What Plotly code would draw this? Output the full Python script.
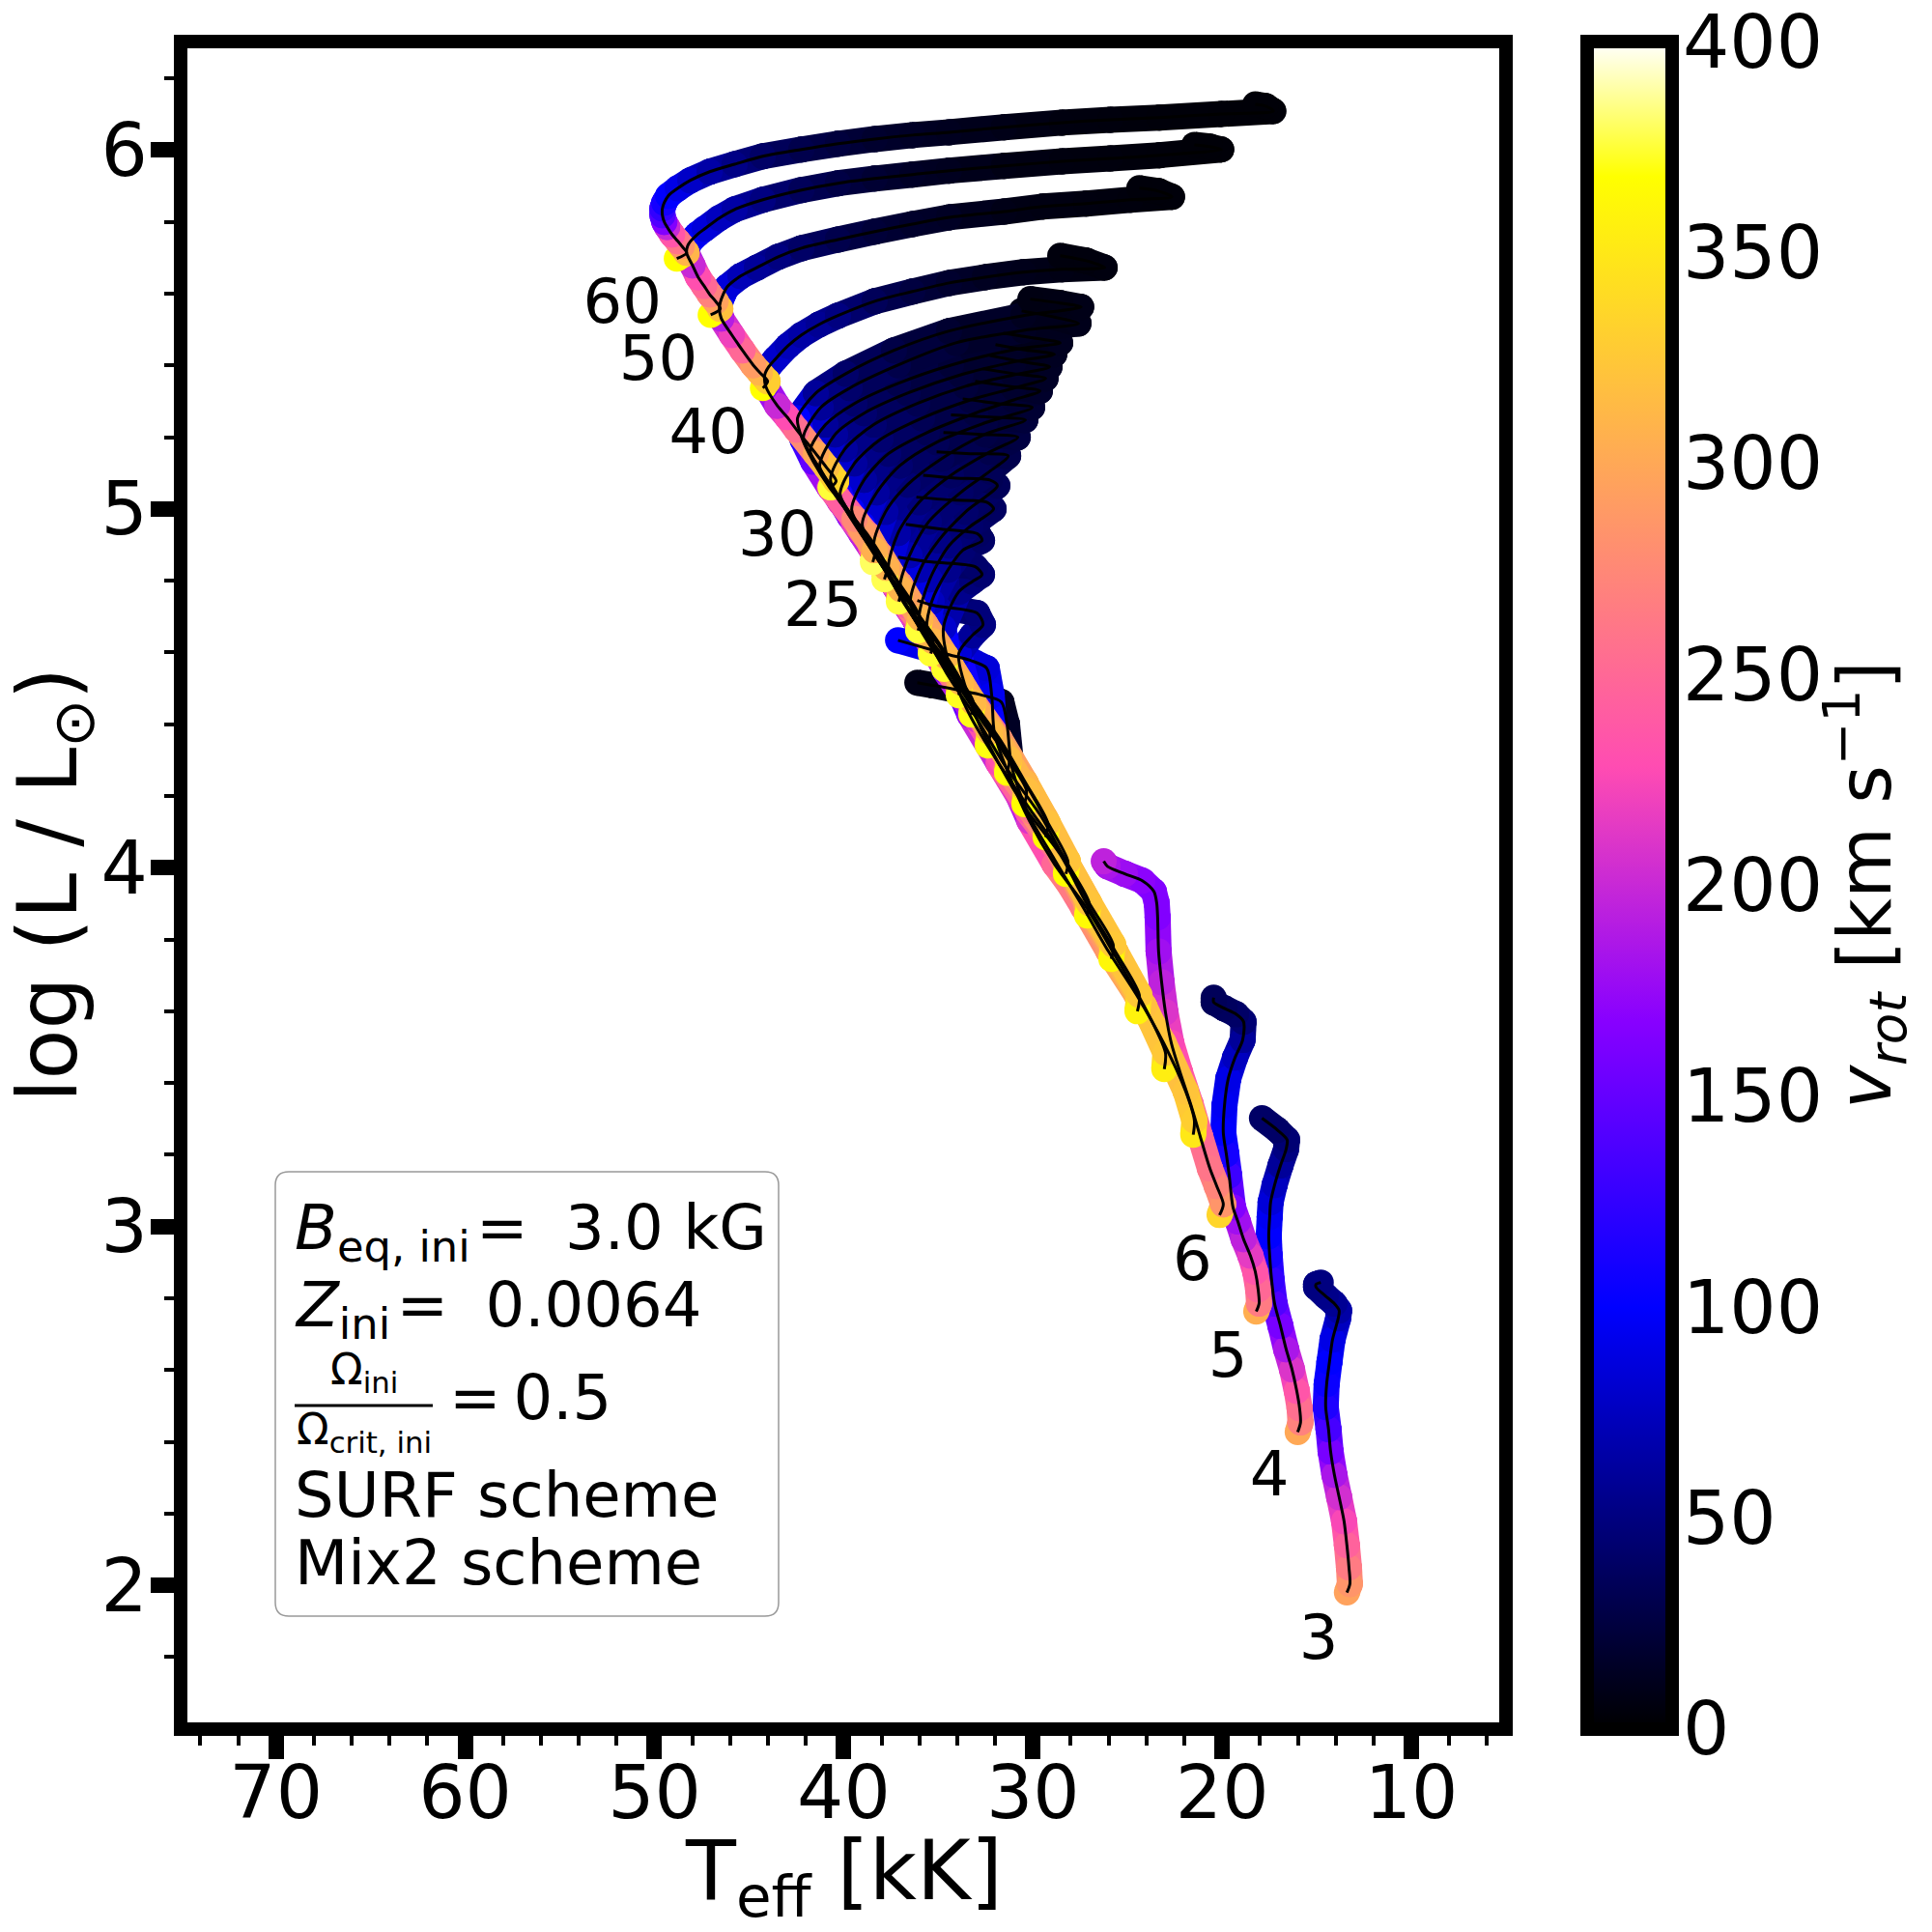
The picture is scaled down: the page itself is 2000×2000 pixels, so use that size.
import plotly.graph_objects as go
from plotly.colors import sample_colorscale

# Stellar tracks: Teff [kK], log L, vrot [km/s], from the ZAMS hook to the end
T3 = [13.41, 13.25, 13.30, 13.41, 13.56, 13.82, 14.07, 14.27, 14.38, 14.53, 14.48, 14.33, 14.17, 13.87, 13.82, 14.07, 14.53, 15.04, 15.04, 14.79]
L3 = [1.980, 2.004, 2.050, 2.112, 2.179, 2.246, 2.308, 2.373, 2.435, 2.497, 2.561, 2.623, 2.685, 2.744, 2.766, 2.785, 2.806, 2.831, 2.839, 2.844]
V3 = [295, 285, 265, 245, 225, 205, 185, 160, 135, 115, 105, 100, 90, 75, 65, 58, 54, 50, 50, 50]
T4 = [16.01, 15.86, 15.91, 16.06, 16.31, 16.62, 16.92, 17.23, 17.39, 17.49, 17.54, 17.49, 17.44, 17.23, 16.92, 16.62, 16.57, 17.08, 17.90]
L4 = [2.427, 2.454, 2.494, 2.542, 2.602, 2.658, 2.723, 2.785, 2.852, 2.919, 2.973, 3.027, 3.068, 3.116, 3.170, 3.216, 3.242, 3.269, 3.302]
V4 = [300, 270, 255, 235, 210, 185, 160, 140, 125, 110, 100, 95, 85, 75, 60, 50, 45, 40, 40]
T5 = [18.20, 18.05, 18.10, 18.25, 18.51, 18.87, 19.17, 19.43, 19.63, 19.78, 19.94, 19.88, 19.68, 19.32, 18.92, 18.87, 19.27, 19.88, 20.45, 20.45]
L5 = [2.763, 2.785, 2.825, 2.874, 2.919, 2.965, 3.014, 3.054, 3.143, 3.202, 3.261, 3.337, 3.412, 3.471, 3.520, 3.571, 3.592, 3.608, 3.625, 3.638]
V5 = [305, 265, 250, 235, 215, 195, 180, 165, 130, 110, 100, 95, 90, 75, 60, 45, 40, 37, 35, 35]
T6 = [20.14, 19.94, 20.29, 20.65, 21.16, 21.67, 22.23, 22.69, 23.00, 23.20, 23.36, 23.41, 23.46, 23.61, 24.22, 25.14, 26.06, 26.26]
L6 = [3.032, 3.062, 3.113, 3.162, 3.251, 3.342, 3.431, 3.512, 3.598, 3.681, 3.767, 3.862, 3.902, 3.934, 3.964, 3.983, 4.004, 4.018]
V6 = [335, 285, 272, 260, 252, 245, 235, 225, 210, 195, 180, 165, 165, 165, 170, 178, 185, 195]
T7 = [21.53, 21.47, 21.93, 23.10, 24.53, 26.01, 27.34, 28.86, 30.19, 30.80, 31.16, 31.37, 31.67, 32.69, 35.24, 36.11]
L7 = [3.256, 3.296, 3.377, 3.512, 3.646, 3.767, 3.889, 4.023, 4.144, 4.225, 4.292, 4.400, 4.462, 4.481, 4.508, 4.516]
V7 = [350, 330, 322, 315, 305, 290, 270, 245, 215, 180, 20, 14, 12, 10, 8, 8]
T8 = [23.06, 23.00, 24.12, 25.65, 27.18, 28.86, 30.19, 31.31, 32.03, 32.18, 32.44, 33.30, 34.43, 37.13]
L8 = [3.439, 3.485, 3.614, 3.754, 3.889, 4.010, 4.131, 4.265, 4.373, 4.481, 4.556, 4.578, 4.594, 4.634]
V8 = [355, 325, 318, 300, 280, 250, 210, 170, 110, 95, 85, 85, 85, 100]
T9 = [24.48, 24.38, 25.65, 27.18, 28.56, 30.29, 31.82, 33.15, 33.92, 33.20, 32.64, 32.95, 35.24, 36.11]
L9 = [3.600, 3.646, 3.767, 3.902, 4.037, 4.158, 4.292, 4.440, 4.597, 4.648, 4.677, 4.710, 4.731, 4.745]
V9 = [358, 325, 318, 300, 270, 235, 190, 130, 85, 60, 50, 48, 42, 40]
T10 = [25.86, 25.76, 27.03, 28.46, 30.09, 31.82, 33.35, 34.33, 34.73, 33.92, 33.20, 32.69, 33.05, 35.35, 37.13]
L10 = [3.746, 3.786, 3.902, 4.037, 4.158, 4.292, 4.427, 4.548, 4.669, 4.769, 4.798, 4.817, 4.839, 4.852, 4.866]
V10 = [362, 325, 318, 295, 265, 225, 175, 125, 80, 55, 48, 44, 42, 38, 36]
T11 = [27.14, 27.03, 28.31, 29.58, 31.41, 32.94, 34.63, 35.60, 35.35, 34.48, 33.71, 32.69, 32.90, 34.84, 36.72]
L11 = [3.867, 3.902, 4.023, 4.144, 4.279, 4.413, 4.548, 4.656, 4.742, 4.831, 4.885, 4.912, 4.930, 4.944, 4.957]
V11 = [365, 322, 315, 290, 255, 210, 160, 110, 75, 55, 45, 40, 38, 35, 33]
T12 = [28.26, 28.15, 29.33, 30.75, 32.58, 34.12, 35.55, 36.01, 35.45, 34.43, 33.30, 32.08, 32.44, 34.33, 36.16]
L12 = [3.983, 4.018, 4.136, 4.265, 4.400, 4.521, 4.642, 4.696, 4.804, 4.898, 4.952, 5.000, 5.019, 5.025, 5.033]
V12 = [368, 322, 312, 285, 245, 195, 140, 105, 70, 50, 42, 38, 36, 33, 31]
T13 = [29.33, 29.22, 30.40, 31.77, 33.60, 35.14, 36.47, 35.96, 34.99, 33.56, 31.88, 32.28, 34.07, 35.80]
L13 = [4.085, 4.125, 4.238, 4.360, 4.494, 4.615, 4.736, 4.831, 4.912, 4.992, 5.065, 5.081, 5.086, 5.094]
V13 = [368, 320, 310, 280, 235, 180, 110, 70, 52, 42, 35, 33, 30, 28]
T14 = [30.45, 30.35, 31.52, 32.95, 34.78, 36.16, 37.03, 36.52, 35.50, 33.82, 32.28, 31.31, 33.30, 35.09]
L14 = [4.177, 4.217, 4.319, 4.440, 4.567, 4.683, 4.777, 4.871, 4.965, 5.046, 5.105, 5.148, 5.154, 5.159]
V14 = [368, 318, 305, 275, 225, 165, 105, 70, 50, 40, 34, 30, 27, 25]
T15 = [31.37, 31.26, 32.54, 34.27, 35.90, 37.02, 37.64, 37.13, 36.01, 34.33, 32.28, 30.80, 32.79, 34.73]
L15 = [4.265, 4.303, 4.413, 4.535, 4.664, 4.755, 4.831, 4.933, 5.019, 5.094, 5.159, 5.200, 5.208, 5.213]
V15 = [369, 316, 300, 260, 205, 155, 105, 65, 48, 38, 30, 26, 23, 22]
T16 = [32.39, 32.28, 33.56, 35.29, 36.67, 37.59, 38.41, 37.79, 36.62, 34.84, 32.54, 30.40, 32.28, 34.33]
L16 = [4.341, 4.379, 4.494, 4.615, 4.728, 4.817, 4.898, 4.992, 5.068, 5.140, 5.208, 5.248, 5.256, 5.262]
V16 = [370, 315, 295, 250, 195, 145, 100, 65, 45, 35, 27, 23, 21, 20]
T17 = [33.26, 33.15, 34.33, 36.00, 37.28, 38.25, 39.02, 38.25, 37.03, 35.09, 32.54, 30.04, 31.88, 33.71]
L17 = [4.427, 4.462, 4.562, 4.675, 4.782, 4.871, 4.957, 5.046, 5.121, 5.186, 5.240, 5.283, 5.294, 5.307]
V17 = [371, 313, 292, 245, 190, 135, 100, 62, 44, 34, 26, 20, 18, 17]
T18 = [33.92, 33.82, 34.99, 36.67, 37.94, 38.86, 39.58, 38.92, 37.64, 35.60, 33.05, 31.01, 29.63, 31.26, 33.05]
L18 = [4.481, 4.518, 4.621, 4.731, 4.839, 4.925, 4.998, 5.081, 5.154, 5.213, 5.267, 5.304, 5.329, 5.342, 5.356]
V18 = [372, 312, 290, 240, 180, 130, 100, 62, 44, 33, 25, 20, 17, 15, 14]
T19 = [34.69, 34.58, 35.70, 37.33, 38.55, 39.47, 40.19, 39.43, 38.05, 35.86, 33.30, 31.01, 29.33, 31.01, 32.64]
L19 = [4.554, 4.589, 4.680, 4.790, 4.890, 4.973, 5.041, 5.127, 5.194, 5.253, 5.304, 5.337, 5.364, 5.377, 5.391]
V19 = [373, 311, 288, 235, 175, 128, 100, 62, 44, 33, 24, 18, 15, 13, 12]
T20 = [35.40, 35.29, 36.42, 37.94, 39.06, 39.98, 40.70, 39.94, 38.41, 36.11, 33.56, 31.01, 29.12, 30.75, 32.28]
L20 = [4.597, 4.632, 4.736, 4.839, 4.930, 5.014, 5.081, 5.167, 5.235, 5.294, 5.342, 5.374, 5.396, 5.412, 5.428]
V20 = [374, 310, 285, 230, 170, 125, 100, 62, 44, 32, 23, 17, 14, 12, 11]
T21 = [36.07, 35.96, 37.03, 38.55, 39.68, 40.60, 41.27, 40.45, 38.92, 36.62, 33.82, 31.01, 28.87, 30.50, 31.98]
L21 = [4.661, 4.696, 4.790, 4.890, 4.979, 5.060, 5.119, 5.208, 5.267, 5.323, 5.374, 5.410, 5.431, 5.444, 5.458]
V21 = [375, 309, 282, 225, 165, 120, 100, 62, 43, 31, 22, 16, 13, 11, 10]
T22 = [37.09, 36.98, 38.05, 39.47, 40.49, 41.26, 41.77, 40.96, 39.43, 37.13, 34.33, 31.01, 28.56, 29.99, 31.57]
L22 = [4.742, 4.777, 4.871, 4.965, 5.046, 5.113, 5.162, 5.235, 5.294, 5.350, 5.401, 5.444, 5.463, 5.477, 5.490]
V22 = [376, 308, 280, 220, 160, 120, 100, 60, 42, 30, 21, 15, 12, 10, 9]
T23 = [37.85, 37.74, 38.76, 40.19, 41.15, 41.77, 42.13, 41.21, 39.68, 37.13, 34.07, 30.50, 27.59, 28.97, 30.60]
L23 = [4.804, 4.836, 4.930, 5.019, 5.100, 5.154, 5.200, 5.283, 5.337, 5.401, 5.463, 5.498, 5.517, 5.536, 5.552]
V23 = [378, 307, 278, 215, 155, 118, 100, 60, 42, 29, 20, 13, 10, 9, 8]
T25 = [38.46, 38.36, 39.43, 40.75, 41.61, 42.18, 42.44, 41.47, 39.89, 37.34, 34.43, 30.50, 27.45, 28.56, 30.14]
L25 = [4.852, 4.885, 4.973, 5.060, 5.132, 5.194, 5.253, 5.323, 5.377, 5.442, 5.496, 5.539, 5.563, 5.574, 5.585]
V25 = [380, 306, 275, 210, 150, 118, 100, 60, 41, 28, 19, 12, 9, 8, 7]
T30 = [40.70, 40.40, 40.91, 41.47, 42.49, 42.99, 43.51, 44.12, 44.17, 43.97, 43.61, 42.94, 42.23, 41.31, 40.30, 38.36, 36.37, 34.43, 32.54, 30.50, 28.46, 26.21, 27.18, 28.56]
L30 = [5.060, 5.078, 5.116, 5.154, 5.221, 5.256, 5.288, 5.342, 5.374, 5.396, 5.418, 5.455, 5.485, 5.514, 5.539, 5.579, 5.606, 5.630, 5.646, 5.660, 5.668, 5.673, 5.692, 5.706]
V30 = [375, 335, 318, 300, 255, 228, 200, 160, 120, 90, 80, 72, 65, 58, 50, 35, 25, 18, 13, 10, 8, 6, 5, 5]
T40 = [44.27, 44.02, 44.43, 44.78, 45.35, 45.91, 46.47, 46.57, 46.52, 46.37, 46.16, 45.45, 44.58, 43.46, 42.23, 40.30, 38.36, 36.37, 34.43, 31.52, 29.48, 27.18, 24.84, 22.65, 23.36, 24.38]
L40 = [5.337, 5.356, 5.380, 5.401, 5.442, 5.485, 5.531, 5.558, 5.576, 5.598, 5.619, 5.649, 5.673, 5.703, 5.727, 5.751, 5.773, 5.794, 5.813, 5.829, 5.843, 5.851, 5.862, 5.870, 5.886, 5.894]
V40 = [368, 330, 310, 290, 250, 220, 190, 150, 110, 95, 85, 72, 60, 50, 40, 30, 22, 17, 14, 9, 7, 6, 5, 4, 4, 4]
T50 = [47.03, 46.52, 46.77, 47.08, 47.38, 47.69, 47.99, 48.30, 48.25, 48.10, 47.74, 47.34, 46.57, 45.76, 44.27, 42.23, 40.30, 38.36, 36.37, 34.43, 31.52, 28.46, 25.91, 23.31, 20.05, 20.65, 21.47]
L50 = [5.541, 5.558, 5.579, 5.598, 5.622, 5.646, 5.679, 5.714, 5.733, 5.746, 5.765, 5.781, 5.811, 5.835, 5.862, 5.889, 5.908, 5.921, 5.932, 5.943, 5.956, 5.969, 5.977, 5.986, 6.002, 6.010, 6.015]
V50 = [368, 320, 295, 270, 250, 230, 200, 175, 130, 105, 95, 85, 75, 65, 50, 35, 27, 20, 15, 12, 8, 6, 5, 4, 3, 3, 3]
T60 = [48.82, 48.30, 48.56, 48.76, 49.07, 49.33, 49.48, 49.58, 49.58, 49.48, 49.27, 48.76, 48.10, 47.08, 45.76, 44.27, 42.23, 40.30, 38.36, 36.37, 34.43, 31.52, 28.46, 25.91, 23.31, 20.05, 17.30, 17.70, 18.25]
L60 = [5.698, 5.714, 5.733, 5.746, 5.765, 5.786, 5.800, 5.819, 5.838, 5.854, 5.873, 5.894, 5.916, 5.940, 5.961, 5.983, 6.002, 6.018, 6.031, 6.042, 6.050, 6.064, 6.077, 6.085, 6.091, 6.101, 6.109, 6.123, 6.128]
V60 = [368, 310, 285, 260, 235, 200, 165, 140, 125, 110, 100, 90, 78, 65, 52, 40, 30, 24, 18, 15, 12, 9, 6, 5, 4, 3, 3, 3, 3]

tracks = [(T3, L3, V3), (T4, L4, V4), (T5, L5, V5), (T6, L6, V6), (T7, L7, V7), (T8, L8, V8),
          (T9, L9, V9), (T10, L10, V10), (T11, L11, V11), (T12, L12, V12), (T13, L13, V13),
          (T14, L14, V14), (T15, L15, V15), (T16, L16, V16), (T17, L17, V17), (T18, L18, V18),
          (T19, L19, V19), (T20, L20, V20), (T21, L21, V21), (T22, L22, V22), (T23, L23, V23),
          (T25, L25, V25), (T30, L30, V30), (T40, L40, V40), (T50, L50, V50), (T60, L60, V60)]

# mass labels next to the ZAMS ends
label_text = ['60', '50', '40', '30', '25', '6', '5', '4', '3']
label_T = [51.7, 49.8, 47.16, 43.5, 41.1, 21.58, 19.7, 17.5, 14.9]
label_L = [5.562, 5.404, 5.198, 4.914, 4.717, 2.894, 2.624, 2.294, 1.840]

x_ticks = [70, 60, 50, 40, 30, 20, 10]
y_ticks = [2, 3, 4, 5, 6]
cbar_ticks = [0, 50, 100, 150, 200, 250, 300, 350, 400]

# matplotlib gnuplot2, its break points written out
gnuplot2 = [[0, 'rgb(0,0,0)'], [0.25, 'rgb(0,0,255)'], [0.42, 'rgb(136,0,255)'],
            [0.57, 'rgb(255,76,178)'], [0.92, 'rgb(255,255,0)'], [1, 'rgb(255,255,255)']]

FONT = 'DejaVu Sans'
BAND = 27
# the page has an 8 px body margin, so the figure is 1984 wide and sits at (8, 8)
W, H = 1984, 1984
LEFT, RIGHT, TOP, BOTTOM = 194, 1552, 50, 1783  # inner edges of the frame, page pixels
CB_TOP, CB_BOTTOM = 43, 1790


def px(x):
    return (x - LEFT) / (RIGHT - LEFT)


def py(y):
    return (BOTTOM - y) / (BOTTOM - TOP)


def vcolor(v):
    return sample_colorscale(gnuplot2, v / 400)[0]


fig = go.Figure()

# only here to carry the colorbar
fig.add_trace(go.Scatter(
    x=[T3[0]], y=[L3[0]], mode='markers', showlegend=False, hoverinfo='skip',
    marker=dict(size=1, color=[V3[0]], colorscale=gnuplot2, cmin=0, cmax=400, showscale=True,
                colorbar=dict(thickness=88, thicknessmode='pixels',
                              len=(CB_BOTTOM - CB_TOP) / (BOTTOM - TOP), lenmode='fraction',
                              x=px(1643), xanchor='left', xpad=0, y=py(CB_BOTTOM), yanchor='bottom', ypad=0,
                              outlinewidth=14, outlinecolor='black', borderwidth=0,
                              tickmode='array', tickvals=cbar_ticks, ticks='', showticklabels=False))))

# thick coloured tracks, one piece per pair of read points, low masses first
for T, L, V in tracks:
    for i in range(len(T) - 1):
        c = vcolor((V[i] + V[i + 1]) / 2)
        fig.add_trace(go.Scatter(x=T[i:i + 2], y=L[i:i + 2], mode='lines+markers', showlegend=False,
                                 hoverinfo='skip', line=dict(color=c, width=BAND),
                                 marker=dict(color=[vcolor(V[i]), vcolor(V[i + 1])], size=BAND, line=dict(width=0))))

# thin black lines on top of everything
for T, L, V in tracks:
    fig.add_trace(go.Scatter(x=T, y=L, mode='lines', showlegend=False, hoverinfo='skip',
                             line=dict(color='black', width=3, shape='spline', smoothing=0.8)))

fig.add_trace(go.Scatter(x=label_T, y=label_L, mode='text', text=label_text, showlegend=False,
                         hoverinfo='skip', textposition='middle center',
                         textfont=dict(family=FONT, size=64, color='black')))

# legend box with rounded corners
bx0, bx1, by0, by1, r = 285, 806, 1213, 1673, 14
box = (f'M {px(bx0 + r)} {py(by0)} L {px(bx1 - r)} {py(by0)} Q {px(bx1)} {py(by0)} {px(bx1)} {py(by0 + r)} '
       f'L {px(bx1)} {py(by1 - r)} Q {px(bx1)} {py(by1)} {px(bx1 - r)} {py(by1)} '
       f'L {px(bx0 + r)} {py(by1)} Q {px(bx0)} {py(by1)} {px(bx0)} {py(by1 - r)} '
       f'L {px(bx0)} {py(by0 + r)} Q {px(bx0)} {py(by0)} {px(bx0 + r)} {py(by0)} Z')
shapes = [dict(type='path', xref='paper', yref='paper', path=box, line=dict(color='#999999', width=1.5)),
          dict(type='line', xref='paper', yref='paper', x0=px(305), x1=px(448), y0=py(1455), y1=py(1455),
               line=dict(color='black', width=3))]

legend_lines = [
    ('<i>B</i><sub>eq, ini</sub>\u200a=\u2002\u200a3.0 kG', 303, 1275, 64, 'left'),
    ('<i>Z</i><sub>ini</sub>\u200a=\u2002\u200a0.0064', 303, 1355, 64, 'left'),
    ('Ω<sub>ini</sub>', 377, 1420, 44, 'center'),
    ('Ω<sub>crit, ini</sub>', 377, 1482, 44, 'center'),
    ('=\u20090.5', 463, 1447, 64, 'left'),
    ('SURF scheme', 303, 1548, 64, 'left'),
    ('Mix2 scheme', 303, 1618, 64, 'left'),
]
annotations = [dict(text=t, x=px(x), y=py(y), xref='paper', yref='paper', xanchor=a, yanchor='middle',
                    showarrow=False, font=dict(family=FONT, size=s, color='black'))
               for t, x, y, s, a in legend_lines]

# colorbar labels sit closer to the bar than plotly puts them
for v in cbar_ticks:
    annotations.append(dict(text=str(v), x=px(1740), y=py(CB_BOTTOM + (CB_TOP - CB_BOTTOM) * v / 400),
                            xref='paper', yref='paper', xanchor='left', yanchor='middle', showarrow=False,
                            font=dict(family=FONT, size=76, color='black')))

# titles as annotations: a title standoff makes plotly push the margins
annotations.append(dict(text='<i>v<sub>rot</sub></i> [km s<sup>−1</sup>]', x=px(1931), y=py(916),
                        xref='paper', yref='paper', xanchor='center', yanchor='middle', textangle=-90,
                        showarrow=False, font=dict(family=FONT, size=76, color='black')))
annotations.append(dict(text='T<sub>eff</sub> [kK]', x=px(873), y=py(1942), xref='paper', yref='paper',
                        xanchor='center', yanchor='middle', showarrow=False,
                        font=dict(family=FONT, size=85, color='black')))
annotations.append(dict(text='log (L / L<sub>⊙</sub>)', x=px(55), y=py(916), xref='paper', yref='paper',
                        xanchor='center', yanchor='middle', textangle=-90, showarrow=False,
                        font=dict(family=FONT, size=85, color='black')))

axis_style = dict(showline=True, linewidth=14, linecolor='black', mirror=True, showgrid=False, zeroline=False,
                  automargin=False, ticks='outside', ticklen=24, tickwidth=16, tickcolor='black',
                  tickfont=dict(family=FONT, size=76, color='black'))

fig.update_layout(
    width=W, height=H, autosize=False, showlegend=False,
    paper_bgcolor='white', plot_bgcolor='white',
    margin=dict(l=LEFT - 8, r=W - (RIGHT - 8), t=TOP - 8, b=H - (BOTTOM - 8), pad=0),
    shapes=shapes, annotations=annotations,
    xaxis=dict(range=[74.68, 5.36], tickmode='array', tickvals=x_ticks, ticklabelstandoff=-30,
               minor=dict(ticks='outside', ticklen=10, tickwidth=4, dtick=2, tick0=0, tickcolor='black', showgrid=False),
               **axis_style),
    yaxis=dict(range=[1.618, 6.284], tickmode='array', tickvals=y_ticks, ticklabelstandoff=-12,
               minor=dict(ticks='outside', ticklen=10, tickwidth=4, dtick=0.2, tick0=0, tickcolor='black', showgrid=False),
               **axis_style),
)

fig.write_html('out.html')
